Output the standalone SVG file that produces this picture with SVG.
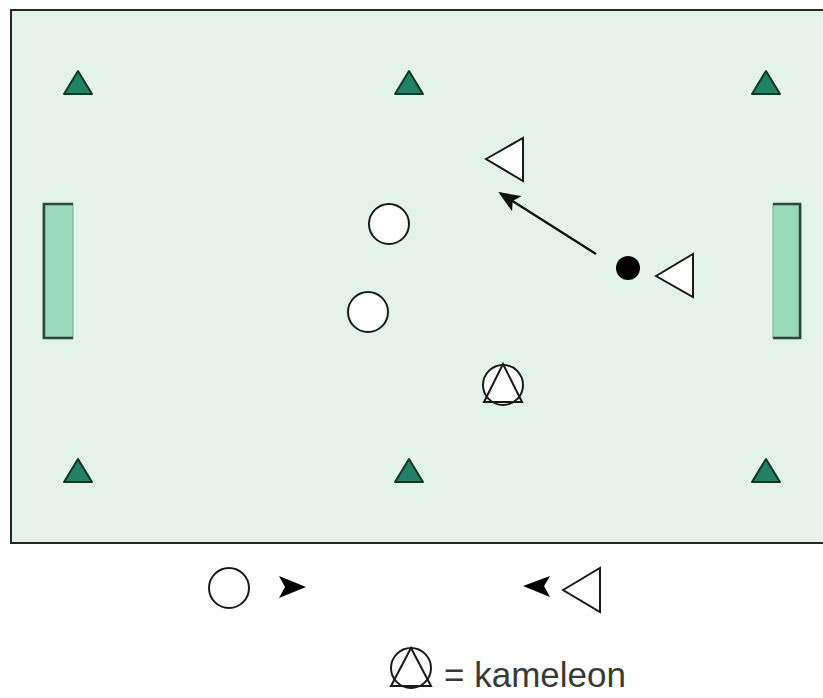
<svg xmlns="http://www.w3.org/2000/svg" width="823" height="698" viewBox="0 0 823 698">
<defs>
<style>
.field{fill:#e3f3ea;stroke:#1f2a24;stroke-width:2}
.goal{fill:#97d9b8;stroke:#6fae90;stroke-width:1}
.goalpost{stroke:#2c4a3a;stroke-width:2.5;fill:none}
.cone{fill:#228064;stroke:#12352a;stroke-width:2;stroke-linejoin:round}
.player{fill:#ffffff;stroke:#1a1a1a;stroke-width:2}
.ball{fill:#000000}
.conn{stroke:#111;stroke-width:2.2;fill:none}
.label{font-family:"Liberation Sans",Arial,sans-serif;font-size:35px;fill:#3a3a3a}
</style>
<marker id="ah" markerWidth="22" markerHeight="18" refX="20" refY="9" orient="auto" markerUnits="userSpaceOnUse" viewBox="0 0 22 18">
<path d="M0,0 L22,9 L0,18 L5,9 Z" fill="#111"/>
</marker>
</defs>
<rect x="0" y="0" width="823" height="698" fill="#ffffff"/>
<g id="field">
<rect class="field" x="11" y="10" width="830" height="533"/>
</g>
<g id="goal-left">
<rect class="goal" x="43" y="204" width="30" height="134"/>
<path class="goalpost" d="M73,204 H44 V338 H73"/>
</g>
<g id="goal-right">
<rect class="goal" x="773" y="204" width="28" height="134"/>
<path class="goalpost" d="M773,204 H800 V338 H773"/>
</g>
<g id="cone-tl"><polygon class="cone" points="78,71 64,94 92,94"/></g>
<g id="cone-tm"><polygon class="cone" points="409,71 395,94 423,94"/></g>
<g id="cone-tr"><polygon class="cone" points="766,71 752,94 780,94"/></g>
<g id="cone-bl"><polygon class="cone" points="78,459 64,482 92,482"/></g>
<g id="cone-bm"><polygon class="cone" points="409,459 395,482 423,482"/></g>
<g id="cone-br"><polygon class="cone" points="766,459 752,482 780,482"/></g>
<g id="tri-1"><polygon class="player" points="486,159 523,138 523,181"/></g>
<g id="tri-2"><polygon class="player" points="656,276 693,254 693,297"/></g>
<g id="ball"><circle class="ball" cx="628" cy="268" r="12"/></g>
<g id="circle-1"><circle class="player" cx="389" cy="224" r="20"/></g>
<g id="circle-2"><circle class="player" cx="368" cy="312" r="20"/></g>
<g id="kameleon">
<circle class="player" cx="503" cy="385" r="20"/>
<polygon class="player" style="fill:none" points="503,364 484,402 522,402"/>
</g>
<g id="connectors">
<line class="conn" x1="596" y1="254" x2="500" y2="193" marker-end="url(#ah)"/>
</g>
<g id="legend-circle"><circle class="player" cx="229" cy="588" r="20"/></g>
<g id="legend-arrow-right"><path d="M279,576 L306,587 L279,598 L285,587 Z" fill="#000"/></g>
<g id="legend-arrow-left"><path d="M550,576 L523,586 L550,597 L544,586 Z" fill="#000"/></g>
<g id="legend-triangle"><polygon class="player" points="563,590 600,568 600,612"/></g>
<g id="legend-kameleon">
<circle class="player" cx="411" cy="668" r="20"/>
<polygon class="player" style="fill:none" points="411,648 391,686 431,686"/>
<text class="label" x="444" y="687">= kameleon</text>
</g>
</svg>
